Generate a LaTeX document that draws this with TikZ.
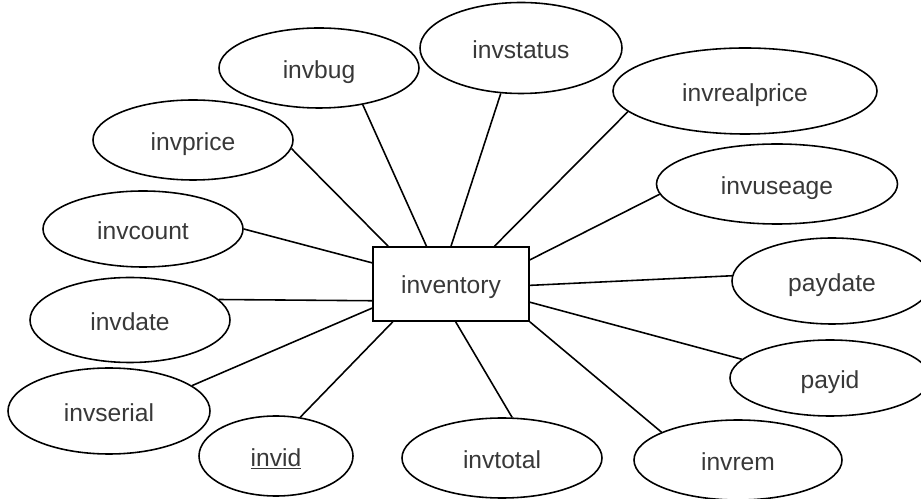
\documentclass[tikz,border=0pt]{standalone}
\usepackage{fontspec}
\setmainfont{Liberation Sans}
\usepackage{tikz}
\usetikzlibrary{shapes.geometric}

\begin{document}
\begin{tikzpicture}[attr/.style={ellipse,draw,line width=0.9pt,inner sep=0pt,minimum width=4cm,minimum height=1.6cm,text=black!78,text height=11.5pt,text depth=0pt,font=\fontsize{14}{16}\selectfont},
        entity/.style={rectangle,draw,line width=0.9pt,minimum width=3.12cm,minimum height=1.48cm,text=black!78,text height=11pt,text depth=0pt,font=\fontsize{14}{16}\selectfont},
        every path/.style={line width=0.9pt}]
        \useasboundingbox (0,0) rectangle (18.42,9.96);
        \node [entity] (inv) at (9.02,4.28) {inventory};

        \node [attr] (bug) at (6.38,8.60) {invbug};
        \node [attr,minimum width=4.04cm,minimum height=1.82cm] (status) at (10.42,9.0) {invstatus};
        \node [attr] (price) at (3.86,7.16) {invprice};
        \node [attr,minimum width=5.28cm,minimum height=1.72cm] (realprice) at (14.90,8.14) {invrealprice};
        \node [attr,minimum height=1.52cm] (count) at (2.86,5.38) {invcount};
        \node [attr,minimum width=4.82cm] (useage) at (15.54,6.28) {invuseage};
        \node [attr,minimum height=1.7cm] (date) at (2.6,3.56) {invdate};
        \node [attr,minimum height=1.72cm] (paydate) at (16.64,4.34) {paydate};
        \node [attr,minimum width=4.04cm,minimum height=1.72cm] (serial) at (2.18,1.74) {invserial};
        \node [attr,minimum height=1.52cm] (payid) at (16.6,2.4) {payid};
        \node [attr,minimum width=3.08cm] (id) at (5.52,0.84) {\underline{invid}};
        \node [attr] (total) at (10.04,0.8) {invtotal};
        \node [attr,minimum width=4.16cm] (rem) at (14.76,0.76) {invrem};

        % attributes to entity
        \draw (bug.-40) -- (inv.123);
        \draw (price.-5) -- (inv.149);
        \draw (count.0) -- (inv.165.6);
        \draw (status.246.5) -- (inv.90);
        \draw (realprice.190.8) -- (inv.41.4);
        \draw (useage.185.3) -- (inv.17.1);
        \draw (paydate.177.8) -- (inv.-1.5);
        \draw (payid.168) -- (inv.-13);
        \draw (rem.160.7) -- (inv.south east);
        \draw (total.76.6) -- (inv.-83.8);
        \draw (id.58.8) -- (inv.-147);
        \draw (serial.17.2) -- (inv.-163.6);
        \draw (date.13) -- (inv.-168.4);
    \end{tikzpicture}
\end{document}
